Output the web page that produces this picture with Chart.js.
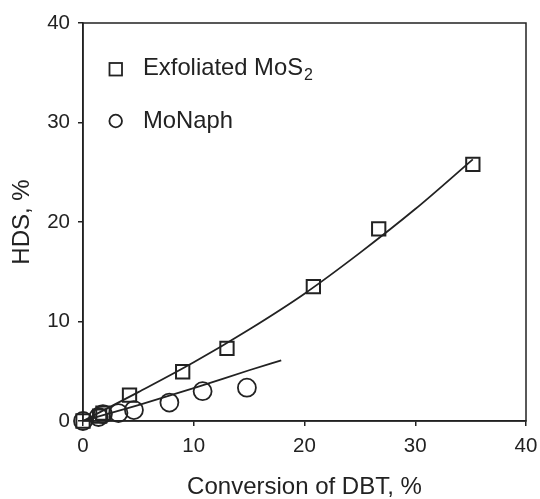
<!DOCTYPE html>
<html>
<head>
<meta charset="utf-8">
<script src="https://cdn.jsdelivr.net/npm/chart.js@4.4.1/dist/chart.umd.min.js"></script>
<style>
  html, body { margin:0; padding:0; background:#fff; }
  #wrap { position:relative; width:540px; height:499px; }
</style>
</head>
<body>
<div id="wrap"><canvas id="grafico" width="540" height="499"></canvas></div>
<script>
// ------------------- DADOS -------------------
const exfX = [0, 1.5, 1.8, 4.2, 9.0, 13.0, 20.8, 26.7, 35.2];
const exfY = [0, 0.5, 0.8, 2.6, 4.95, 7.3, 13.5, 19.3, 25.8];

const napX = [0, 1.4, 1.8, 3.2, 4.6, 7.8, 10.8, 14.8];
const napY = [0, 0.4, 0.7, 0.8, 1.1, 1.85, 3.0, 3.35];

// linhas de ajuste
const exfLinhaX = [0, 5, 10, 15, 20, 25, 30, 35.2];
const exfLinhaY = [0, 2.9, 5.9, 9.2, 12.8, 16.9, 21.3, 26.3];
const napLinhaX = [0, 5, 10, 15, 17.9];
const napLinhaY = [0, 1.6, 3.3, 5.1, 6.1];

const nomes = ['Exfoliated MoS', 'MoNaph'];
const xTicks = [0, 10, 20, 30, 40];
const yTicks = [0, 10, 20, 30, 40];

const cor = '#222';
const fonte = "'Liberation Sans', Arial, sans-serif";

function pares(xs, ys){
  return xs.map((x,i)=>({x:x, y:ys[i]}));
}

// moldura + legenda dentro do gráfico
const moldura = {
  id:'moldura',
  afterDraw(chart){
    const ctx = chart.ctx;
    const a = chart.chartArea;
    ctx.save();
    ctx.strokeStyle = cor;
    ctx.lineWidth = 1.5;
    ctx.strokeRect(a.left, a.top, a.right - a.left, a.bottom - a.top);

    // legenda
    ctx.lineWidth = 1.8;
    ctx.strokeRect(109.5, 63, 12.5, 12.5);
    ctx.beginPath();
    ctx.arc(115.7, 121, 6.3, 0, Math.PI*2);
    ctx.stroke();

    ctx.fillStyle = cor;
    ctx.textBaseline = 'alphabetic';
    ctx.font = "23.8px " + fonte;
    ctx.fillText(nomes[0], 143, 75);
    const w = ctx.measureText(nomes[0]).width;
    ctx.font = "16px " + fonte;
    ctx.fillText('2', 143 + w + 1, 79.5);
    ctx.font = "23.8px " + fonte;
    ctx.fillText(nomes[1], 143, 127.5);
    ctx.restore();
  }
};

new Chart(document.getElementById('grafico'), {
  type:'scatter',
  data:{
    datasets:[
      {
        label:nomes[0],
        data:pares(exfX, exfY),
        pointStyle:'rect',
        pointRadius:9.4,
        pointBorderWidth:2,
        borderColor:cor,
        backgroundColor:'rgba(0,0,0,0)',
        showLine:false,
        clip:false
      },
      {
        label:nomes[1],
        data:pares(napX, napY),
        pointStyle:'circle',
        pointRadius:9,
        pointBorderWidth:1.8,
        borderColor:cor,
        backgroundColor:'rgba(0,0,0,0)',
        showLine:false,
        clip:false
      },
      {
        label:'ajuste1',
        data:pares(exfLinhaX, exfLinhaY),
        showLine:true,
        pointRadius:0,
        borderColor:cor,
        borderWidth:1.8,
        tension:0.4,
        cubicInterpolationMode:'monotone'
      },
      {
        label:'ajuste2',
        data:pares(napLinhaX, napLinhaY),
        showLine:true,
        pointRadius:0,
        borderColor:cor,
        borderWidth:1.8,
        tension:0.4,
        cubicInterpolationMode:'monotone'
      }
    ]
  },
  options:{
    responsive:false,
    animation:false,
    layout:{ padding:{ left:0, right:14, top:23, bottom:0 } },
    plugins:{ legend:{ display:false }, tooltip:{ enabled:false } },
    scales:{
      x:{
        type:'linear', min:0, max:40,
        afterBuildTicks: s => { s.ticks = xTicks.map(v=>({value:v})); },
        afterFit: s => { s.height = 78; s.paddingLeft = 0; s.paddingRight = 0; },
        grid:{ display:true, drawOnChartArea:false, drawTicks:true, tickLength:5, color:cor, lineWidth:1.5 },
        border:{ display:true, color:cor, width:1.5 },
        ticks:{ color:cor, padding:8, font:{ family:fonte, size:20.5 } },
        title:{ display:true, text:'Conversion of DBT, %', color:cor, font:{ family:fonte, size:24, lineHeight:1 }, padding:{ top:0, bottom:0 } }
      },
      y:{
        type:'linear', min:0, max:40,
        afterBuildTicks: s => { s.ticks = yTicks.map(v=>({value:v})); },
        afterFit: s => { s.width = 83; s.paddingTop = 0; s.paddingBottom = 0; },
        grid:{ display:true, drawOnChartArea:false, drawTicks:true, tickLength:5, color:cor, lineWidth:1.5 },
        border:{ display:true, color:cor, width:1.5 },
        ticks:{ color:cor, padding:8, font:{ family:fonte, size:20.5 } },
        title:{ display:true, text:'HDS, %', color:cor, font:{ family:fonte, size:24, lineHeight:1 }, padding:{ top:10, bottom:0 } }
      }
    }
  },
  plugins:[moldura]
});
</script>
</body>
</html>
